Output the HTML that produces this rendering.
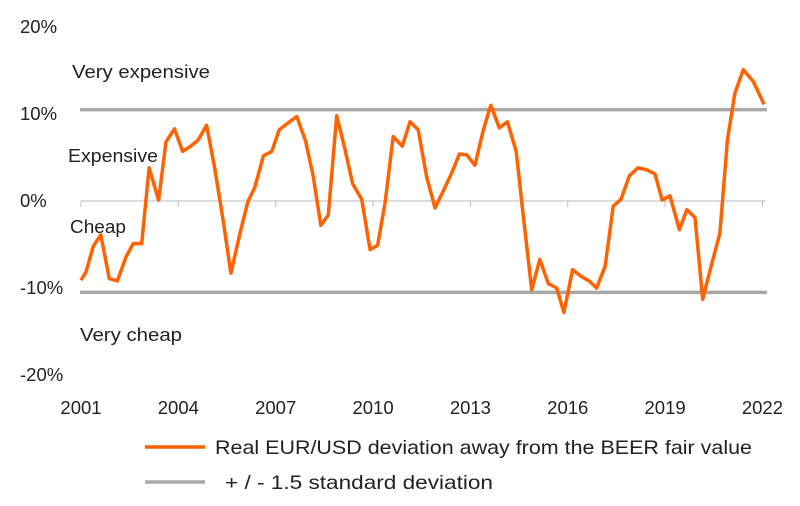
<!DOCTYPE html>
<html><head><meta charset="utf-8">
<style>
body{margin:0;background:#fff;font-family:"Liberation Sans",sans-serif;}
svg text{font-family:"Liberation Sans",sans-serif;fill:#222;}
</style></head>
<body>
<svg id="chart" width="800" height="501" viewBox="0 0 800 501" xmlns="http://www.w3.org/2000/svg">
<g id="axes"></g>
<g id="bands"></g>
<g id="zones">
<text x="72" y="78" font-size="18" textLength="138" lengthAdjust="spacingAndGlyphs">Very expensive</text>
<text x="68" y="162" font-size="18" textLength="90" lengthAdjust="spacingAndGlyphs">Expensive</text>
<text x="70" y="233" font-size="18" textLength="56" lengthAdjust="spacingAndGlyphs">Cheap</text>
<text x="80" y="341" font-size="18" textLength="102" lengthAdjust="spacingAndGlyphs">Very cheap</text>
</g>
<g id="series"></g>
<g>
<line x1="145" y1="447" x2="205" y2="447" stroke="#ff6200" stroke-width="3.5"/>
<text x="215" y="454" font-size="19.5" textLength="537" lengthAdjust="spacingAndGlyphs">Real EUR/USD deviation away from the BEER fair value</text>
<line x1="145" y1="482" x2="205" y2="482" stroke="#a8a8a8" stroke-width="3.5"/>
<text x="225" y="489" font-size="19.5" textLength="268" lengthAdjust="spacingAndGlyphs">+ / - 1.5 standard deviation</text>
</g>
</svg>
<script>
const yTicks=[20,10,0,-10,-20];
const yTickLabels=["20%","10%","0%","-10%","-20%"];
const xTicks=[2001,2004,2007,2010,2013,2016,2019,2022];
const bandValues=[10.5,-10.5];
const dates=[2001.0,2001.15,2001.38,2001.61,2001.87,2002.12,2002.39,2002.61,2002.87,2003.10,2003.39,2003.62,2003.88,2004.13,2004.38,2004.61,2004.87,2005.13,2005.39,2005.62,2005.90,2006.14,2006.36,2006.62,2006.88,2007.11,2007.39,2007.65,2007.92,2008.16,2008.39,2008.62,2008.88,2009.14,2009.37,2009.65,2009.91,2010.14,2010.37,2010.62,2010.90,2011.14,2011.39,2011.65,2011.91,2012.16,2012.42,2012.66,2012.89,2013.14,2013.40,2013.63,2013.89,2014.14,2014.41,2014.61,2014.89,2015.14,2015.40,2015.66,2015.88,2016.15,2016.43,2016.66,2016.89,2017.15,2017.40,2017.64,2017.90,2018.16,2018.43,2018.69,2018.91,2019.15,2019.44,2019.67,2019.92,2020.16,2020.44,2020.69,2020.92,2021.15,2021.41,2021.72,2022.05];
const deviation=[-9.1,-8.2,-5.2,-3.9,-8.9,-9.2,-6.4,-4.9,-4.9,3.8,0.1,6.8,8.3,5.7,6.3,7.0,8.7,3.6,-2.5,-8.3,-3.7,-0.1,1.6,5.2,5.7,8.2,9.0,9.7,6.9,2.8,-2.8,-1.6,9.8,5.9,2.0,0.2,-5.6,-5.1,-0.2,7.4,6.3,9.1,8.2,2.8,-0.8,1.1,3.2,5.4,5.3,4.1,8.2,11.0,8.4,9.1,5.7,-1.0,-10.2,-6.7,-9.5,-10.0,-12.8,-7.9,-8.7,-9.2,-10.0,-7.5,-0.6,0.2,2.9,3.8,3.6,3.1,0.1,0.6,-3.3,-1.0,-1.9,-11.3,-7.2,-3.7,7.0,12.4,15.1,13.7,11.1];

const NS="http://www.w3.org/2000/svg";
const x0=81,yearPx=32.45,y0=201,pctPx=8.7;
const xs=d=>x0+(d-2001)*yearPx;
const ys=v=>y0-v*pctPx;
function mk(tag,attrs,parent){const e=document.createElementNS(NS,tag);for(const k in attrs)e.setAttribute(k,attrs[k]);parent.appendChild(e);return e;}
const axes=document.getElementById('axes');
yTicks.forEach((t,i)=>{
  const el=mk('text',{x:20,y:ys(t)+6,'font-size':18.5},axes);
  
  
  el.textContent=yTickLabels[i];
});
const ax=mk('line',{x1:xs(2001),x2:xs(2022)+3,y1:ys(0),y2:ys(0),stroke:'#bbb','stroke-width':1},axes);


xTicks.forEach(t=>{
  const tk=mk('line',{x1:xs(t),x2:xs(t),y1:ys(0),y2:ys(0)+6,stroke:'#bbb','stroke-width':1},axes);
  
  
  const lb=mk('text',{x:xs(t),y:414,'font-size':18.5,'text-anchor':'middle'},axes);
  
  
  lb.textContent=t;
});
const bands=document.getElementById('bands');
bandValues.forEach(v=>{
  const l=mk('line',{x1:80,x2:767,y1:ys(v),y2:ys(v),stroke:'#a8a8a8','stroke-width':3.5},bands);
  
  
});
const pts=dates.map((d,i)=>xs(d).toFixed(1)+','+ys(deviation[i]).toFixed(1)).join(' ');
const pl=mk('polyline',{points:pts,fill:'none',stroke:'#ff6200','stroke-width':3.5,'stroke-linejoin':'round'},document.getElementById('series'));


</script>
</body></html>
